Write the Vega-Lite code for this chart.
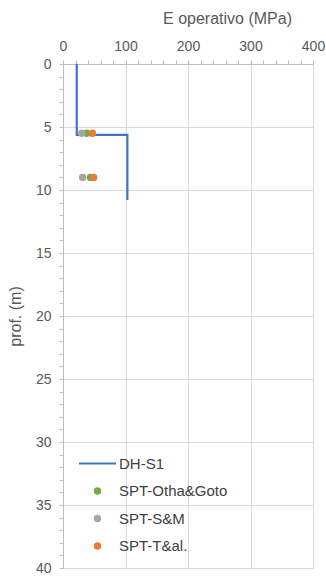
{
  "$schema": "https://vega.github.io/schema/vega-lite/v6.json",
  "autosize": {"type": "none"},
  "padding": {"left": 63, "top": 64, "right": 13, "bottom": 9},
  "width": 250,
  "height": 504,
  "background": "white",
  "config": {
    "font": "Liberation Sans",
    "view": {"stroke": null},
    "axis": {"labelColor": "#595959", "titleColor": "#595959", "labelFontSize": 14, "titleFontSize": 16, "titleFontWeight": "normal", "domainColor": "#bfbfbf", "tickColor": "#bfbfbf", "gridColor": "#d9d9d9"}
  },
  "datasets": {
    "line": [
      {"serie": "DH-S1", "ord": 1, "E": 22, "prof": 0},
      {"serie": "DH-S1", "ord": 2, "E": 22, "prof": 5.63},
      {"serie": "DH-S1", "ord": 3, "E": 103, "prof": 5.63},
      {"serie": "DH-S1", "ord": 4, "E": 103, "prof": 10.8}
    ],
    "pts": [
      {"serie": "SPT-Otha&Goto", "ord": 1, "E": 38, "prof": 5.5},
      {"serie": "SPT-Otha&Goto", "ord": 2, "E": 44, "prof": 9.0},
      {"serie": "SPT-S&M", "ord": 3, "E": 30, "prof": 5.5},
      {"serie": "SPT-S&M", "ord": 4, "E": 31.5, "prof": 9.0},
      {"serie": "SPT-T&al.", "ord": 5, "E": 47, "prof": 5.5},
      {"serie": "SPT-T&al.", "ord": 6, "E": 49, "prof": 9.0}
    ]
  },
  "encoding": {
    "x": {"field": "E", "type": "quantitative", "scale": {"domain": [0, 400], "nice": false, "zero": false},
      "axis": {"orient": "top", "title": "E operativo (MPa)", "values": [0,20,40,60,80,100,120,140,160,180,200,220,240,260,280,300,320,340,360,380,400],
        "labelExpr": "datum.value % 100 === 0 ? datum.label : ''", "labelOverlap": false, "labelBound": false, "labelFlush": false, "labelPadding": 7, "tickSize": 4,
        "gridOpacity": {"condition": {"test": "datum.value % 100 === 0", "value": 1}, "value": 0},
        "titleAnchor": "middle", "titleX": 164, "titleY": -38, "titleBaseline": "bottom"}},
    "y": {"field": "prof", "type": "quantitative", "scale": {"domain": [0, 40], "reverse": true, "nice": false, "zero": false},
      "axis": {"title": "prof. (m)", "values": [0,1,2,3,4,5,6,7,8,9,10,11,12,13,14,15,16,17,18,19,20,21,22,23,24,25,26,27,28,29,30,31,32,33,34,35,36,37,38,39,40],
        "labelExpr": "datum.value % 5 === 0 ? datum.label : ''", "labelOverlap": false, "labelBound": false, "labelFlush": false, "labelPadding": 8, "tickSize": 4,
        "gridOpacity": {"condition": {"test": "datum.value % 5 === 0", "value": 1}, "value": 0},
        "titleX": -40}}
  },
  "layer": [
    {
      "data": {"name": "line"},
      "mark": {"type": "line", "strokeWidth": 2.2},
      "encoding": {
        "order": {"field": "ord"},
        "color": {"field": "serie", "type": "nominal",
          "scale": {"domain": ["DH-S1", "SPT-Otha&Goto", "SPT-S&M", "SPT-T&al."], "range": ["#4472C4", "#70AD47", "#A5A5A5", "#ED7D31"]},
          "legend": {"orient": "none", "legendX": 27, "legendY": 392, "title": null, "labelFontSize": 15, "labelColor": "#404040",
            "symbolSize": 1225, "rowPadding": 11.5, "labelOffset": 14,
            "encode": {"symbols": {"update": {
              "shape": {"signal": "datum.value === 'DH-S1' ? 'stroke' : 'circle'"},
              "size": {"signal": "datum.value === 'DH-S1' ? 1369 : 55"},
              "strokeWidth": {"signal": "datum.value === 'DH-S1' ? 2.2 : 0"},
              "stroke": {"signal": "scale('color', datum.value)"},
              "fill": {"signal": "datum.value === 'DH-S1' ? 'transparent' : scale('color', datum.value)"},
              "opacity": {"value": 1}, "fillOpacity": {"value": 1}, "strokeOpacity": {"value": 1}
            }}}}
        }
      }
    },
    {
      "data": {"name": "pts"},
      "mark": {"type": "point", "filled": true, "size": 55, "opacity": 1},
      "encoding": {
        "order": {"field": "ord"},
        "color": {"field": "serie", "type": "nominal"}
      }
    }
  ]
}
